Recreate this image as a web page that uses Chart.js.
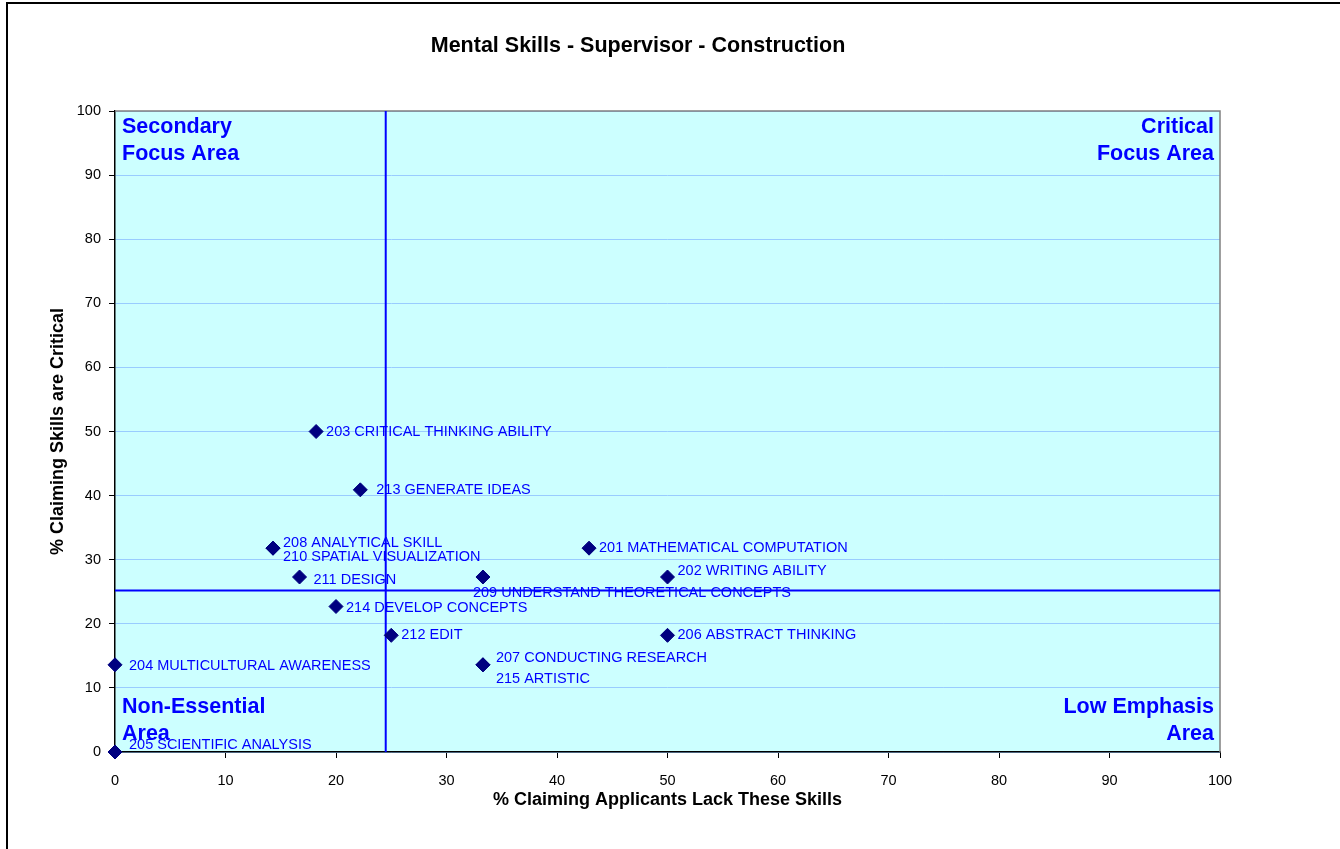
<!DOCTYPE html>
<html>
<head>
<meta charset="utf-8">
<title>Mental Skills - Supervisor - Construction</title>
<script src="https://cdn.jsdelivr.net/npm/chart.js@4/dist/chart.umd.min.js"></script>
<style>
  html, body { margin: 0; padding: 0; background: #fff; }
  #skillsChart { display: block; }
</style>
</head>
<body>
<canvas id="skillsChart" width="1340" height="849"></canvas>
<script>
// skill names and survey percentages
const skills = [
	"201 MATHEMATICAL COMPUTATION",
	"202 WRITING ABILITY",
	"203 CRITICAL THINKING ABILITY",
	"204 MULTICULTURAL AWARENESS",
	"205 SCIENTIFIC ANALYSIS",
	"206 ABSTRACT THINKING",
	"207 CONDUCTING RESEARCH",
	"208 ANALYTICAL SKILL",
	"209 UNDERSTAND THEORETICAL CONCEPTS",
	"210 SPATIAL VISUALIZATION",
	"211 DESIGN",
	"212 EDIT",
	"213 GENERATE IDEAS",
	"214 DEVELOP CONCEPTS",
	"215 ARTISTIC"
];
const lackPct = [42.9, 50.0, 18.2, 0, 0, 50.0, 33.3, 14.3, 33.3, 14.3, 16.7, 25.0, 22.2, 20.0, 33.3];
const criticalPct = [31.8, 27.3, 50.0, 13.6, 0, 18.2, 13.6, 31.8, 27.3, 31.8, 27.3, 18.2, 40.9, 22.7, 13.6];

// quadrant dividers
const lackDivider = 24.5;
const criticalDivider = 25.2;

const xTickValues = [0, 10, 20, 30, 40, 50, 60, 70, 80, 90, 100];
const yTickValues = [0, 10, 20, 30, 40, 50, 60, 70, 80, 90, 100];

// label nudges (px) so overlapping labels stay readable
const labelOffsets = [
	[10, 0], [10, -6], [10, 0], [14, 1], [14, -7],
	[10, 0], [13, -7], [10, -5], [-10, 16], [10, 9],
	[14, 3], [10, 0], [16, 0], [10, 2], [13, 14]
];

const FONT = "'Liberation Sans', Arial, sans-serif";
Chart.defaults.font.family = FONT;
Chart.defaults.color = "#000";

const points = lackPct.map((x, i) => ({ x: x, y: criticalPct[i] }));

const chartDecor = {
	id: "chartDecor",
	beforeDraw(chart) {
		const { ctx, chartArea: a } = chart;
		ctx.save();
		ctx.fillStyle = "#fff";
		ctx.fillRect(0, 0, chart.width, chart.height);
		// outer frame (top and left edges)
		ctx.fillStyle = "#000";
		ctx.fillRect(6, 2, chart.width - 6, 2);
		ctx.fillRect(6, 2, 2, chart.height - 2);
		// plot area
		ctx.fillStyle = "#CCFFFF";
		ctx.fillRect(a.left, a.top, a.right - a.left, a.bottom - a.top);
		// title
		ctx.fillStyle = "#000";
		ctx.font = "bold 21.5px " + FONT;
		ctx.textAlign = "center";
		ctx.textBaseline = "middle";
		ctx.fillText("Mental Skills - Supervisor - Construction", 638, 46);
		ctx.restore();
	},
	beforeDatasetsDraw(chart) {
		const { ctx, chartArea: a } = chart;
		ctx.save();
		ctx.strokeStyle = "#808080";
		ctx.lineWidth = 1.5;
		ctx.beginPath();
		ctx.moveTo(a.left, a.top);
		ctx.lineTo(a.right, a.top);
		ctx.lineTo(a.right, a.bottom);
		ctx.stroke();
		ctx.restore();
	},
	afterDatasetsDraw(chart) {
		const { ctx, chartArea: a } = chart;
		const meta = chart.getDatasetMeta(0);
		ctx.save();
		ctx.fillStyle = "#0000FF";
		ctx.font = "14.5px " + FONT;
		ctx.textAlign = "left";
		ctx.textBaseline = "middle";
		meta.data.forEach((pt, i) => {
			const off = labelOffsets[i];
			ctx.fillText(skills[i], pt.x + off[0], pt.y + off[1]);
		});

		// quadrant captions
		ctx.font = "bold 21.5px " + FONT;
		ctx.textBaseline = "alphabetic";
		ctx.textAlign = "left";
		ctx.fillText("Secondary", a.left + 7, a.top + 22);
		ctx.fillText("Focus Area", a.left + 7, a.top + 49);
		ctx.fillText("Non-Essential", a.left + 7, a.bottom - 39);
		ctx.fillText("Area", a.left + 7, a.bottom - 12);
		ctx.textAlign = "right";
		ctx.fillText("Critical", a.right - 6, a.top + 22);
		ctx.fillText("Focus Area", a.right - 6, a.top + 49);
		ctx.fillText("Low Emphasis", a.right - 6, a.bottom - 39);
		ctx.fillText("Area", a.right - 6, a.bottom - 12);
		ctx.restore();
	}
};

new Chart(document.getElementById("skillsChart"), {
	type: "scatter",
	data: {
		datasets: [
			{
				label: "Skills",
				data: points,
				order: 1,
				clip: false,
				pointStyle: "rectRot",
				pointRadius: 7,
				pointHoverRadius: 7,
				backgroundColor: "#000080",
				borderColor: "#000080",
				borderWidth: 1,
			},
			{
				label: "Lack divider",
				data: [{ x: lackDivider, y: 0 }, { x: lackDivider, y: 100 }],
				showLine: true,
				order: 2,
				pointRadius: 0,
				borderColor: "#0000FF",
				borderWidth: 2,
			},
			{
				label: "Critical divider",
				data: [{ x: 0, y: criticalDivider }, { x: 100, y: criticalDivider }],
				showLine: true,
				order: 2,
				pointRadius: 0,
				borderColor: "#0000FF",
				borderWidth: 2,
			},
		],
	},
	options: {
		responsive: false,
		animation: false,
		layout: {
			padding: { left: 0, top: 111, right: 120, bottom: 0 },
		},
		plugins: {
			legend: { display: false },
			title: { display: false },
			tooltip: { enabled: false },
		},
		scales: {
			x: {
				type: "linear",
				min: 0,
				max: 100,
				afterBuildTicks: (scale) => {
					scale.ticks = xTickValues.map((v) => ({ value: v }));
				},
				afterFit: (scale) => {
					scale.height = 97;
				},
				grid: {
					drawOnChartArea: false,
					drawTicks: true,
					tickLength: 6,
					tickColor: "#000",
				},
				border: {
					display: true,
					color: "#000",
					width: 1.5,
				},
				ticks: {
					padding: 14,
					font: { size: 14.5 },
					color: "#000",
				},
				title: {
					display: true,
					text: "% Claiming Applicants Lack These Skills",
					font: { size: 18, weight: "bold" },
					color: "#000",
					padding: { top: 0, bottom: 38 },
				},
			},
			y: {
				type: "linear",
				min: 0,
				max: 100,
				afterBuildTicks: (scale) => {
					scale.ticks = yTickValues.map((v) => ({ value: v }));
				},
				afterFit: (scale) => {
					scale.width = 115;
				},
				grid: {
					color: "#99CCFF",
					lineWidth: 1,
					drawTicks: true,
					tickLength: 6,
					tickColor: "#000",
				},
				border: {
					display: true,
					color: "#000",
					width: 1.5,
				},
				ticks: {
					padding: 8,
					font: { size: 14.5 },
					color: "#000",
				},
				title: {
					display: true,
					text: "% Claiming Skills are Critical",
					font: { size: 18, weight: "bold" },
					color: "#000",
					padding: { top: 47, bottom: 0 },
				},
			},
		},
	},
	plugins: [chartDecor],
});
</script>
</body>
</html>
